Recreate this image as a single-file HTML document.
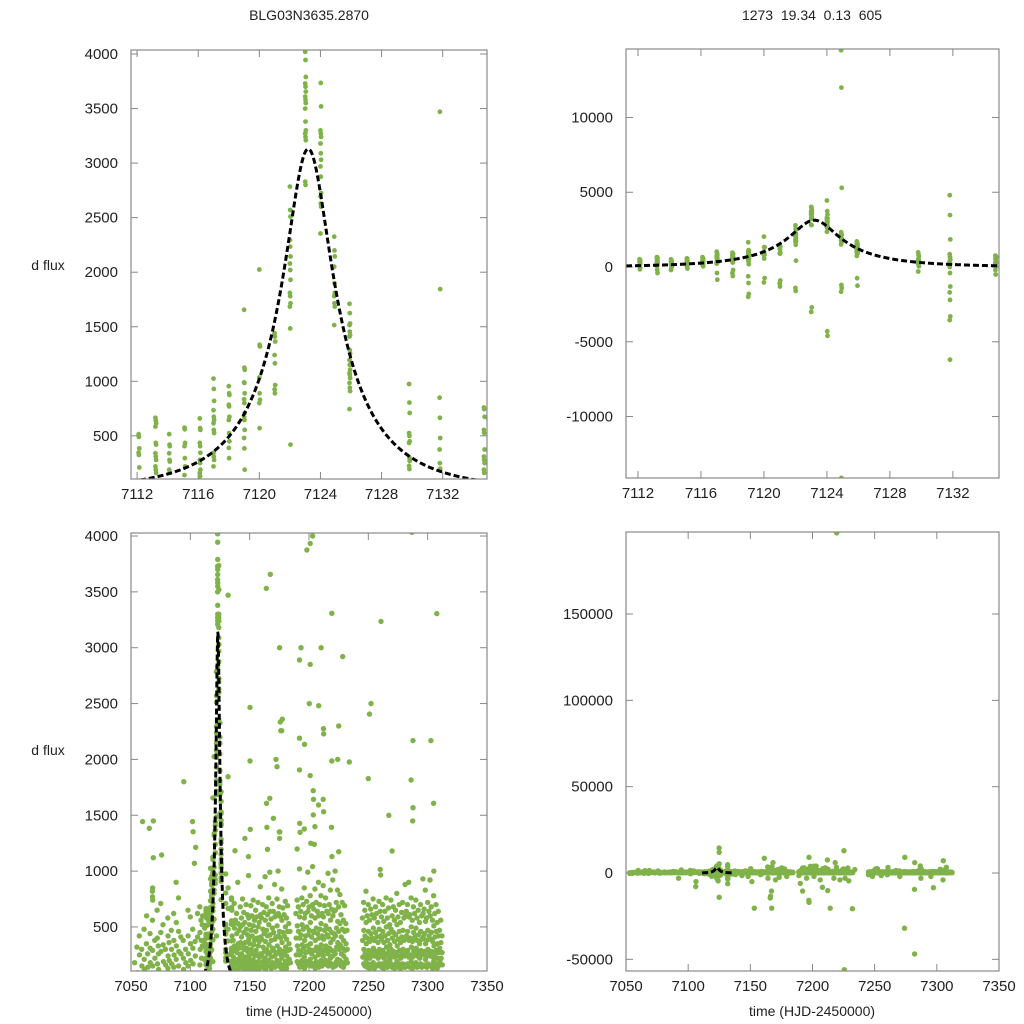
<!DOCTYPE html>
<html><head><meta charset="utf-8">
<style>
html,body{margin:0;padding:0;background:#fff;width:1024px;height:1024px;overflow:hidden;}
svg{display:block;font-family:"Liberation Sans",sans-serif;}
</style></head>
<body>
<svg id="fig" width="1024" height="1024" viewBox="0 0 1024 1024" xmlns="http://www.w3.org/2000/svg">
<rect width="1024" height="1024" fill="#fff"/>
<text x="309" y="20" font-size="14" text-anchor="middle" fill="#222">BLG03N3635.2870</text>
<text x="812" y="20" font-size="14" text-anchor="middle" fill="#222" xml:space="preserve">1273  19.34  0.13  605</text>
<text x="48" y="270" font-size="14" text-anchor="middle" fill="#222">d flux</text>
<text x="48" y="755" font-size="14" text-anchor="middle" fill="#222">d flux</text>
<text x="309" y="1016" font-size="14" text-anchor="middle" fill="#222">time (HJD-2450000)</text>
<text x="812" y="1016" font-size="14" text-anchor="middle" fill="#222">time (HJD-2450000)</text>
</svg>
<script>
// ---- data: zoom window nights (around peak) ----
const peakNightT = [7112.1,7113.2,7114.1,7115.1,7116.1,7117.0,7118.0,7119.0,7120.0,7121.0,7122.0,7123.0,7124.0,7124.9,7125.9,7129.8,7131.8,7134.7];
const peakNightF = [
 [515,490,385,345,325,210,60,-150,-50],
 [665,640,615,585,435,420,340,310,280,220,190,160,50,-200,-400],
 [515,420,405,340,280,265,190,160,40,-200,-100],
 [575,560,435,405,295,220,140,30,-100],
 [660,570,555,435,405,345,280,250,190,160,130,50],
 [1025,930,820,735,675,645,615,555,525,345,310,280,220,-400,-850],
 [955,890,875,785,770,675,645,525,450,390,295,-200,-400,-600],
 [1655,1125,1105,990,985,890,835,800,710,675,645,555,480,385,190,-620,-1070,-1800,-1990],
 [2025,1335,1320,1035,890,830,800,570,-740,-1030],
 [1440,1410,1365,1240,1165,965,925,890,-900,-1100,-1300],
 [2785,2570,2510,2295,2235,2145,2080,2020,1930,1810,1780,1715,1685,1485,420,-1400,-1600],
 [4020,3945,3790,3730,3700,3655,3610,3580,3550,3500,3380,3300,3270,3240,3210,2830,2800,-2700,-3000],
 [4450,3735,3520,3300,3270,3240,3180,3090,3030,2970,2875,2725,2695,2630,2600,2355,-4300,-4600],
 [14500,12000,5300,2325,2200,2145,2050,1900,1810,1780,1715,1685,1515,-1200,-1400,-1650,-14100],
 [1710,1625,1530,1515,1455,1425,1410,1285,1255,1195,1150,1105,1075,1060,1030,985,940,910,745,-750,-1250],
 [975,805,710,525,500,450,435,300,270,225,195,50,-300],
 [4800,3470,1845,850,665,480,375,250,200,0,-400,-1300,-1700,-2200,-3300,-3550,-6200],
 [760,745,675,555,525,375,310,280,250,190,160,20,-200,-500]
];
// ---- data: full season nights ----
const seasonNightT = [7053,7055,7057,7059,7061,7063,7064,7066,7068,7070,7072,7073,7075,7077,7079,7081,7082,7084,7086,7088,7090,7092,7094,7096,7098,7100,7102,7104,7106,7108,7109,7110,
7135,7136,7137,7138,7139,7140,7141,7142,7143,7144,7145,7146,7147,7148,7149,7150,7151,7152,7153,7154,7155,7156,7157,7158,7159,7160,7161,7162,7163,7164,7165,7166,7167,7168,7169,7170,7171,7172,7173,7174,7175,7176,7177,7178,7179,7180,7181,7182,7183,7184,
7189,7190,7191,7192,7193,7194,7195,7196,7197,7198,7199,7200,7201,7202,7203,7204,7205,7206,7207,7208,7209,7210,7211,7212,7213,7214,7215,7216,7217,7218,7219,7220,7221,7222,7223,7224,7225,7226,7227,7228,7229,7230,7231,7232,
7245,7246,7247,7248,7249,7250,7251,7252,7253,7254,7255,7256,7257,7258,7259,7260,7261,7262,7263,7264,7265,7266,7267,7268,7269,7270,7271,7272,7273,7274,7275,7276,7277,7278,7279,7280,7281,7282,7283,7284,7285,7286,7287,7288,7289,7290,7291,7292,7293,7294,7295,7296,7297,7298,7299,7300,7301,7302,7303,7304,7305,7306,7307,7308,7309,7310,7311,7312];
const seasonNightF = [
[180,-300],[320,90,-150],[420,250],[300,150,-100],[480,210,120],[350,600],[260,140,-200],[440,310,180],[560,290,150,-250,850,820,770,740],[380,220],[650,400,170],[330,260,120],[710,450,280],[520,340,190,-100],[300,160],[580,420,240,130],[360,200],[470,300,170],[620,380,250,140],[900,540,330,210],[760,460,280,150],[410,260,-3000],[380,220,120],[300,180],[650,420,260,150],[590,350,200],[480,310,170,-400],[370,240],[620,410,-5000,-7900],[680,450,300,160],[560,380,220,-200],[520,330,600],
[650,420,280,150,-600],[520,380,230,130],[710,490,330,200,110],[560,300,180,-900],[620,440,270,160],[900,530,350,210,120],[470,310,190],[680,500,360,240,140],[580,410,260,150,-1500],[750,520,340,200],[630,450,300,170,110],[540,360,230,130],[700,480,310,190],[610,430,280,160,-2000],[960,580,390,240,130],[520,350,210,120],[690,470,300,180,-5000],[600,420,260,150],[740,510,340,200,-20400],[560,380,240,130],[650,460,290,170,110],[590,400,250,140],[720,500,330,190],[540,370,230,130,-1000],[860,610,410,260,150],[580,390,240,140],[700,480,320,190,8500],[630,440,280,160],[950,560,370,220,120],[680,470,300,180,-3000],[610,420,260,150],[760,520,340,200,-13500,-14500],[990,640,430,270,150,-10500,-20400],[570,380,230,130,6000],[710,490,310,180],[640,450,290,170,-4000],[880,590,390,240,140],[600,410,260,150,2000],[750,510,330,200,-2500],[1000,620,420,270,160],[680,460,300,180,3000],[590,400,250,140],[840,560,360,220,120],[670,450,280,160],[610,420,260,150,-2000],[730,500,320,190],[580,390,240,130],[690,460,290,170],[530,350,210],[460,300,180],
[620,400,250,-1500],[740,510,330,190,-6000],[680,460,290,170],[1020,590,400,250,140,-10500],[640,430,270,160,3000],[760,520,340,200],[700,480,310,180,-3000],[850,580,380,230,130],[620,420,270,150,9100,-15800,-17000],[730,500,330,190],[990,640,430,280,160],[680,470,300,180,2500],[780,540,350,210,-2000],[600,410,260,150],[1040,700,460,290,170,4000],[660,450,290,170],[840,580,380,230,130],[720,490,320,190,-4000],[640,440,280,160],[900,600,400,250,140,-8300],[700,480,310,180],[780,530,340,200,3000],[620,420,270,150],[870,590,390,240,-10200,7600],[690,470,300,180],[760,510,330,200,-20400],[640,430,280,160],[980,620,410,260,150],[700,480,310,180,-3000],[830,560,360,220,6000],[660,450,290,170],[920,600,390,240,140],[640,440,280,160],[1000,650,420,260,150,-4000],[720,490,320,190],[830,550,360,210,2000],[680,460,300,170,12900],[790,530,340,200,-3000],[610,410,260,150],[720,480,310,180],[560,380,240,140,-4500],[690,460,290,170],[530,350,210],[470,300,180,-20700],
[580,380,230,-1000],[720,470,300,170],[650,420,260,150],[820,540,350,210,-2000],[600,400,250,140],[700,460,290,170],[560,370,220,130],[660,440,280,160,2500],[610,400,250,140],[750,490,310,180],[580,380,240,130,-1500],[680,450,280,160],[620,410,260,150],[540,360,220],[730,480,300,170],[640,420,270,150,-1000],[590,390,240,140],[700,460,290,170],[550,360,220,130],[640,420,260,150],[760,500,320,190],[580,380,240,140],[670,440,280,160,1500],[520,340,210],[740,480,300,170],[600,400,250,140,-2000],[680,450,280,160],[560,370,230,130],[650,430,270,150],[800,520,330,190,9100,-32000],[590,390,240,140],[700,460,290,170],[540,360,220,130],[630,410,260,150],[720,470,300,170],[580,380,240,140],[880,600,400,250,140],[640,420,270,150,6000,-9500,-46900],[700,460,290,170],[900,590,380,230],[610,400,250,140],[760,500,320,190],[560,370,230,130,-3000],[680,450,280,160],[620,410,260,150],[740,490,310,180],[580,380,240,140],[650,430,270,150],[540,350,220],[700,460,290,170],[600,390,250,140,-2000],[930,620,410,260],[660,440,280,160,-8500],[830,550,350,210],[580,380,240,140],[720,470,300,170],[640,420,270,150],[920,600,390,240],[680,450,280,160],[560,370,230,130],[780,510,330,190,7100,-4000],[620,410,260,150],[700,460,290,170],[540,350,220,130],[640,420,270,150],[470,310,190],[560,360,220],[420,270,160]
];
// ---- data: isolated outliers ----
const outlierT = [7059.8,7065.4,7068.8,7068.8,7075.8,7094.5,7101.8,7102.3,7104.5,7103.4,7164,7167.4,7150.3,7150.3,7175.8,7177.5,7176.2,7177,7173,7192,7192,7196.2,7198.2,7201,7201,7208.2,7212.2,7212.4,7219.2,7219.5,7219.2,7225,7225.6,7228.4,7234,7250,7251,7260.7,7286.7,7287.6,7286,7287.6,7287.4,7302.7,7307.7,7305,7192,7201,7203.5,7203.8,7208,7212,7212.3,7203.6,7205,7201.5,7204.5,7192.2,7192.5,7196,7190,7164.2,7167,7170,7164.5,7165,7175,7175.4,7175.2,7146,7150.5,7149,7137.6,7219,7225,7219.3,7270,7260,7260.3,7305.2,7302];
const outlierF = [1443,1383,1449,1120,1144,1800,1443,1353,1213,1070,3531,3657,2466,1986,2335,2360,2257,2257,1935,2890,2190,2135,3875,3934,2851,2481,2275,2228,3308,197000,1986,2299,-56000,2920,1977,1828,2406,3236,4033,2168,1816,1568,1449,2168,3305,1607,1906,1855,1720,1643,1592,1643,1532,1503,1398,1249,1240,1428,1347,1377,1198,1607,1652,1473,1392,1195,1350,1350,1293,1293,1374,1130,1183,1392,1174,1130,1180,1015,965,1000,920];
// ---- model (Paczynski) parameters and fitted range ----
const modelT0 = 7123.2, modelU0 = 0.25, modelTE = 6.5, modelFs = 1012;
const modelRange = [7111.2, 7135.0];

// flatten (observations within a night are spread over the night)
const allT = [], allF = [];
peakNightT.forEach((t,i)=>peakNightF[i].forEach((v,j)=>{allT.push(t+0.02*(j%3));allF.push(v);}));
seasonNightT.forEach((t,i)=>seasonNightF[i].forEach((v,j)=>{allT.push(t+0.3*((j*7)%5)/4);allF.push(v);}));
outlierT.forEach((t,i)=>{allT.push(t);allF.push(outlierF[i]);});

function model(t){
  const u2 = modelU0*modelU0 + Math.pow((t-modelT0)/modelTE,2);
  const u = Math.sqrt(u2);
  const A = (u2+2)/(u*Math.sqrt(u2+4));
  return modelFs*(A-1);
}

const NS="http://www.w3.org/2000/svg";
const svg=document.getElementById('fig');
function el(tag,attrs,parent){const e=document.createElementNS(NS,tag);for(const k in attrs)e.setAttribute(k,attrs[k]);(parent||svg).appendChild(e);return e;}

const panels=[
 {id:'top-left',x0:131,x1:487,y0:50,y1:479,xmin:7111.6,xmax:7134.9,ymin:104.5,ymax:4036.7,xt:[7112,7116,7120,7124,7128,7132],yt:[500,1000,1500,2000,2500,3000,3500,4000],r:2.4},
 {id:'top-right',x0:626,x1:999,y0:49,y1:478,xmin:7111.24,xmax:7134.93,ymin:-14110,ymax:14580,xt:[7112,7116,7120,7124,7128,7132],yt:[-10000,-5000,0,5000,10000],r:2.4},
 {id:'bottom-left',x0:131,x1:487,y0:533,y1:971,xmin:7050,xmax:7350,ymin:105.6,ymax:4027,xt:[7050,7100,7150,7200,7250,7300,7350],yt:[500,1000,1500,2000,2500,3000,3500,4000],r:2.7},
 {id:'bottom-right',x0:626,x1:999,y0:532,y1:971,xmin:7050,xmax:7350,ymin:-56760,ymax:197500,xt:[7050,7100,7150,7200,7250,7300,7350],yt:[-50000,0,50000,100000,150000],r:2.7}
];
const defs=el('defs',{});
panels.forEach(p=>{
  const sx=v=>p.x0+(v-p.xmin)/(p.xmax-p.xmin)*(p.x1-p.x0);
  const sy=v=>p.y1-(v-p.ymin)/(p.ymax-p.ymin)*(p.y1-p.y0);
  const g=el('g',{});
  
  
  const cp=el('clipPath',{id:'clip-'+p.id},defs);
  el('rect',{x:p.x0,y:p.y0,width:p.x1-p.x0,height:p.y1-p.y0},cp);
  const tg=el('g',{stroke:'#888','stroke-width':1},g);
  
  
  p.xt.forEach(v=>{const x=sx(v);
    el('line',{x1:x,y1:p.y1,x2:x,y2:p.y1-7},tg);
    el('line',{x1:x,y1:p.y0,x2:x,y2:p.y0+7},tg);
    const t=el('text',{x:x,y:p.y1+20,'font-size':15,'text-anchor':'middle',fill:'#222'},g);
    t.textContent=v;
    
    
  });
  p.yt.forEach(v=>{const y=sy(v);
    el('line',{x1:p.x0,y1:y,x2:p.x0+7,y2:y},tg);
    el('line',{x1:p.x1,y1:y,x2:p.x1-7,y2:y},tg);
    const t=el('text',{x:p.x0-13,y:y+5,'font-size':15,'text-anchor':'end',fill:'#222'},g);
    t.textContent=v;
    
    
  });
  const pg=el('g',{fill:'#80b24a','clip-path':'url(#clip-'+p.id+')'},g);
  
  
  for(let i=0;i<allT.length;i++){
    const t=allT[i],v=allF[i];
    if(t<p.xmin-1||t>p.xmax+1) continue;
    const c=el('circle',{cx:sx(t).toFixed(1),cy:sy(v).toFixed(1),r:p.r},pg);
    
    
  }
  const a=Math.max(p.xmin,modelRange[0]), b=Math.min(p.xmax,modelRange[1]);
  let d='';const N=600;
  for(let k=0;k<=N;k++){const t=a+(b-a)*k/N;d+=(k?'L':'M')+sx(t).toFixed(2)+','+sy(model(t)).toFixed(2);}
  const path=el('path',{d:d,fill:'none',stroke:'#000','stroke-width':3,'stroke-dasharray':'6,3','clip-path':'url(#clip-'+p.id+')'},g);
  
  
  const fr=el('rect',{x:p.x0,y:p.y0,width:p.x1-p.x0,height:p.y1-p.y0,fill:'none',stroke:'#888','stroke-width':1.2},g);
  
  
});
</script>
</body></html>
